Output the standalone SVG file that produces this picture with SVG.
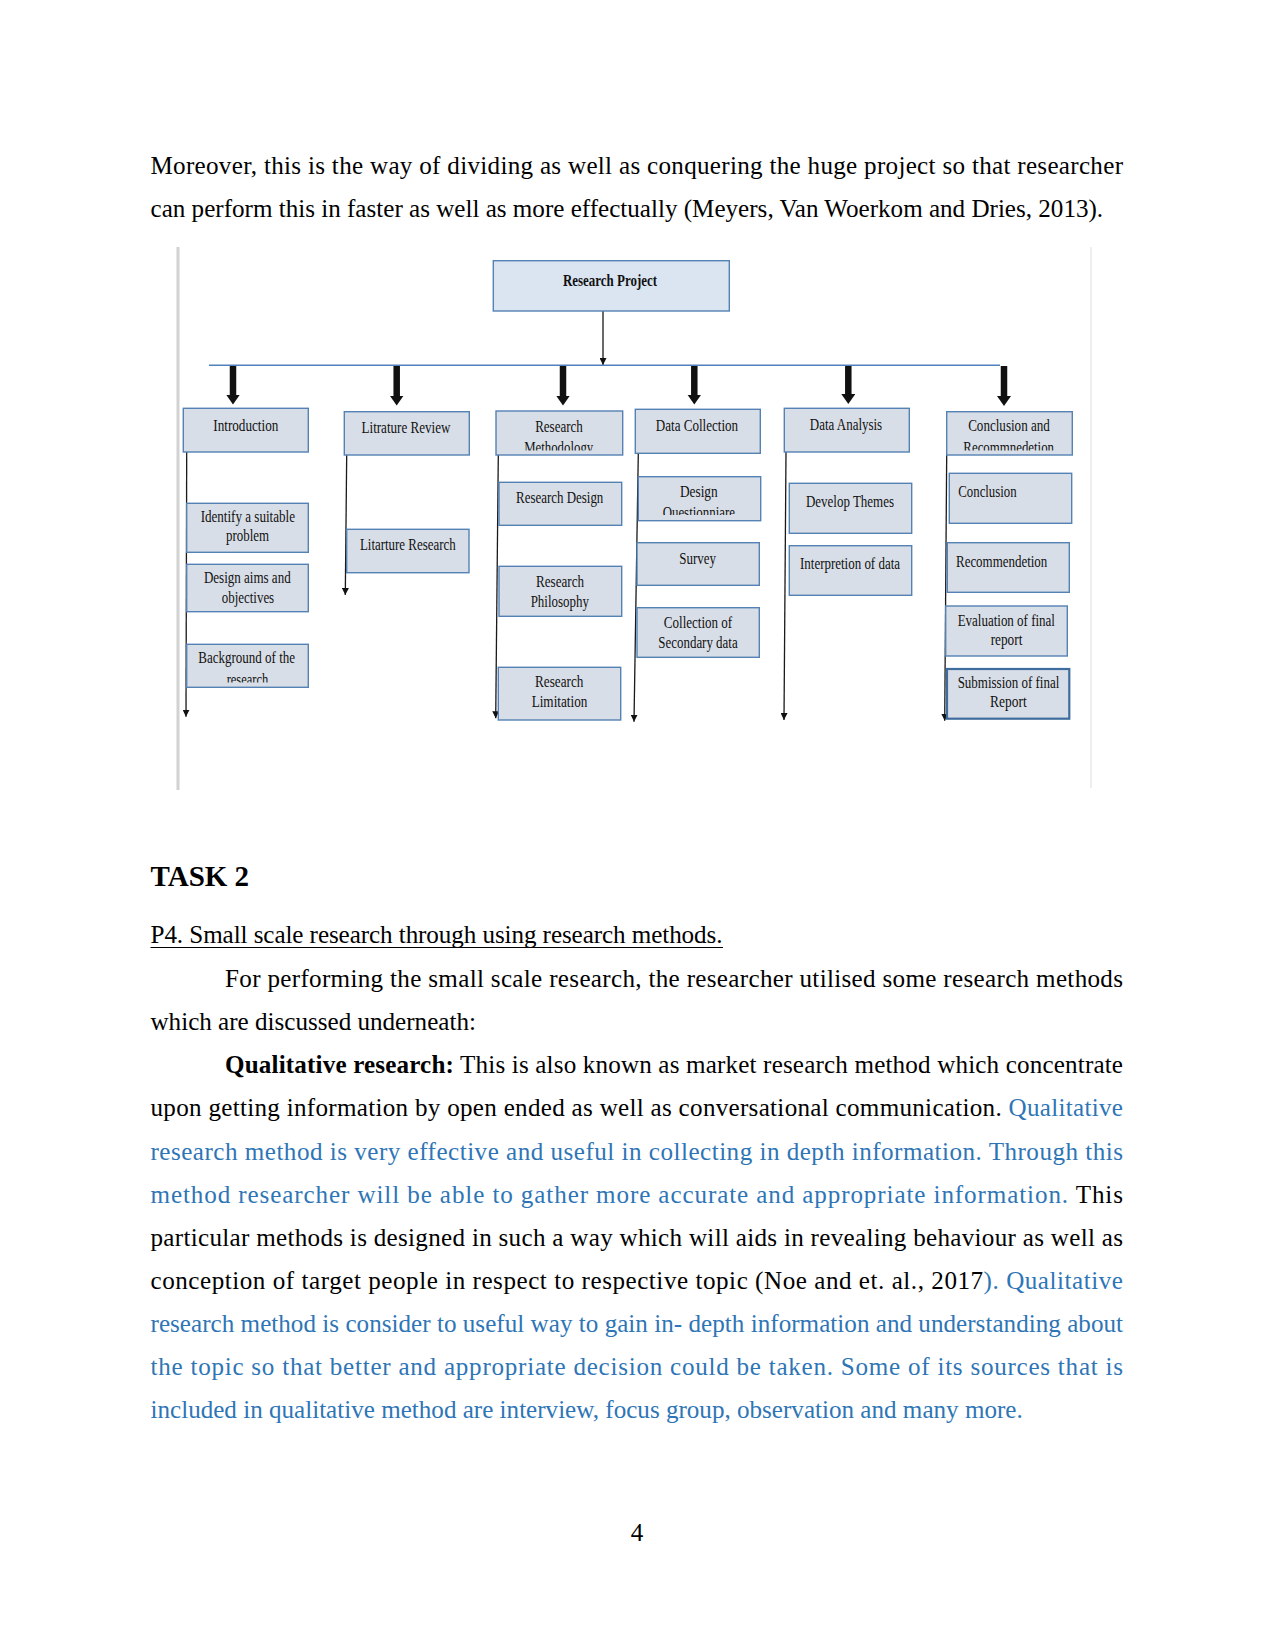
<svg xmlns="http://www.w3.org/2000/svg" width="1275" height="1651" viewBox="0 0 1275 1651">
<style>
.body{font-family:"Liberation Serif","Times New Roman",serif;font-size:25.1px;fill:#000}
.blue{fill:#2e75b6}
.lbl{font-family:"Liberation Serif","Times New Roman",serif;font-size:16px;fill:#111}
.box{fill:#d8dee7;stroke:#5582b4;stroke-width:1.4}
.conn{stroke:#1a1a1a;stroke-width:1.3;fill:none}
.thick{stroke:#111;stroke-width:6.5;fill:none}
</style>
<defs>
<marker id="thin" markerUnits="userSpaceOnUse" viewBox="0 0 8 8" markerWidth="7" markerHeight="7" refX="8" refY="4" orient="auto"><path d="M0,0 L8,4 L0,8 z" fill="#111"/></marker>
<marker id="fat" markerUnits="userSpaceOnUse" viewBox="0 0 10 14" markerWidth="10" markerHeight="14" refX="0.5" refY="7" orient="auto"><path d="M0,0 L10,7 L0,14 z" fill="#111"/></marker>
<clipPath id="cRM"><rect x="496" y="411" width="127" height="39.5"/></clipPath>
<clipPath id="cCR"><rect x="946" y="411" width="127" height="39.5"/></clipPath>
<clipPath id="cDQ"><rect x="638" y="476" width="123" height="39"/></clipPath>
<clipPath id="cBG"><rect x="186" y="644" width="123" height="38.5"/></clipPath>
</defs>

<!-- body text -->
<text class="body" x="150.5" y="173.5" textLength="972.5" lengthAdjust="spacing">Moreover, this is the way of dividing as well as conquering the huge project so that researcher</text>
<text class="body" x="150.5" y="216.5">can perform this in faster as well as more effectually (Meyers, Van Woerkom and Dries, 2013).</text>

<text class="body" x="150.5" y="885.5" style="font-size:29px;font-weight:bold">TASK 2</text>
<text class="body" x="150.5" y="943" textLength="572" lengthAdjust="spacing">P4. Small scale research through using research methods.</text>
<line x1="150.5" y1="947.5" x2="723" y2="947.5" stroke="#000" stroke-width="1.2"/>

<text class="body" x="225" y="987" textLength="898" lengthAdjust="spacing">For performing the small scale research, the researcher utilised some research methods</text>
<text class="body" x="150.5" y="1030.1">which are discussed underneath:</text>
<text class="body" x="225" y="1073.3" textLength="898" lengthAdjust="spacing"><tspan font-weight="bold">Qualitative research:</tspan> This is also known as market research method which concentrate</text>
<text class="body" x="150.5" y="1116.4" textLength="972.5" lengthAdjust="spacing">upon getting information by open ended as well as conversational communication. <tspan class="blue">Qualitative</tspan></text>
<text class="body blue" x="150.5" y="1159.5" textLength="972.5" lengthAdjust="spacing">research method is very effective and useful in collecting in depth information. Through this</text>
<text class="body" x="150.5" y="1202.7" textLength="972.5" lengthAdjust="spacing"><tspan class="blue">method researcher will be able to gather more accurate and appropriate information.</tspan> This</text>
<text class="body" x="150.5" y="1245.8" textLength="972.5" lengthAdjust="spacing">particular methods is designed in such a way which will aids in revealing behaviour as well as</text>
<text class="body" x="150.5" y="1289" textLength="972.5" lengthAdjust="spacing">conception of target people in respect to respective topic (Noe and et. al., 2017<tspan class="blue">). Qualitative</tspan></text>
<text class="body blue" x="150.5" y="1332.1" textLength="972.5" lengthAdjust="spacing">research method is consider to useful way to gain in- depth information and understanding about</text>
<text class="body blue" x="150.5" y="1375.3" textLength="972.5" lengthAdjust="spacing">the topic so that better and appropriate decision could be taken. Some of its sources that is</text>
<text class="body blue" x="150.5" y="1418.4">included in qualitative method are interview, focus group, observation and many more.</text>

<text class="body" x="637" y="1541" text-anchor="middle">4</text>

<!-- image frame -->
<line x1="178" y1="247" x2="178" y2="790" stroke="#d2d2d2" stroke-width="3"/>
<line x1="1091" y1="247" x2="1091" y2="788" stroke="#e8e8e8" stroke-width="1.5"/>

<g id="connectors">
<line class="conn" x1="603" y1="311" x2="603" y2="365" marker-end="url(#thin)"/>
<line x1="209" y1="365.3" x2="1000" y2="365.3" stroke="#4f81bd" stroke-width="1.6"/>
<line class="thick" x1="233" y1="366" x2="233" y2="395" marker-end="url(#fat)"/>
<line class="thick" x1="396.7" y1="366" x2="396.7" y2="396" marker-end="url(#fat)"/>
<line class="thick" x1="563" y1="366" x2="563" y2="396" marker-end="url(#fat)"/>
<line class="thick" x1="694.3" y1="366" x2="694.3" y2="395" marker-end="url(#fat)"/>
<line class="thick" x1="848.3" y1="366" x2="848.3" y2="394.5" marker-end="url(#fat)"/>
<line class="thick" x1="1004" y1="366" x2="1004" y2="396.5" marker-end="url(#fat)"/>
<line class="conn" x1="186.7" y1="452" x2="186" y2="716.7" marker-end="url(#thin)"/>
<line class="conn" x1="346.7" y1="455" x2="345.3" y2="595" marker-end="url(#thin)"/>
<line class="conn" x1="498.3" y1="455" x2="495.7" y2="718.3" marker-end="url(#thin)"/>
<line class="conn" x1="638.3" y1="453.3" x2="634" y2="721.7" marker-end="url(#thin)"/>
<line class="conn" x1="786" y1="452" x2="784" y2="720" marker-end="url(#thin)"/>
<line class="conn" x1="946.7" y1="455" x2="944.7" y2="720.7" marker-end="url(#thin)"/>
</g>

<g id="research-project">
<rect x="493.3" y="260.7" width="236" height="50.3" fill="#dbe5f1" stroke="#5582b4" stroke-width="1.4"/>
<text class="lbl" x="610" y="286" text-anchor="middle" font-weight="bold" textLength="94" lengthAdjust="spacingAndGlyphs">Research Project</text>
</g>

<g id="introduction">
<rect class="box" x="183.3" y="408.3" width="125" height="43.7"/>
<text class="lbl" x="245.8" y="430.7" text-anchor="middle" textLength="65" lengthAdjust="spacingAndGlyphs">Introduction</text>
</g>
<g id="litrature-review">
<rect class="box" x="344.3" y="411.7" width="125" height="43.3"/>
<text class="lbl" x="406" y="433.3" text-anchor="middle" textLength="89" lengthAdjust="spacingAndGlyphs">Litrature Review</text>
</g>
<g id="research-methodology">
<rect class="box" x="496" y="411" width="126.7" height="44"/>
<text class="lbl" x="559" y="431.7" text-anchor="middle" textLength="47.7" lengthAdjust="spacingAndGlyphs">Research</text>
<text class="lbl" x="558.7" y="452.5" text-anchor="middle" textLength="69" lengthAdjust="spacingAndGlyphs" clip-path="url(#cRM)">Methodology</text>
</g>
<g id="data-collection">
<rect class="box" x="635.3" y="409.3" width="125" height="44"/>
<text class="lbl" x="697" y="431" text-anchor="middle" textLength="82.3" lengthAdjust="spacingAndGlyphs">Data Collection</text>
</g>
<g id="data-analysis">
<rect class="box" x="784.3" y="408.3" width="125" height="43.7"/>
<text class="lbl" x="846" y="430" text-anchor="middle" textLength="72.3" lengthAdjust="spacingAndGlyphs">Data Analysis</text>
</g>
<g id="conclusion-recommendation">
<rect class="box" x="946.7" y="411.7" width="125.6" height="43.3"/>
<text class="lbl" x="1009" y="430.7" text-anchor="middle" textLength="81.7" lengthAdjust="spacingAndGlyphs">Conclusion and</text>
<text class="lbl" x="1008.7" y="452.5" text-anchor="middle" textLength="90.7" lengthAdjust="spacingAndGlyphs" clip-path="url(#cCR)">Recommnedetion</text>
</g>

<g id="identify-problem">
<rect class="box" x="186.7" y="503.3" width="121.6" height="49"/>
<text class="lbl" x="247.8" y="521.7" text-anchor="middle" textLength="94.3" lengthAdjust="spacingAndGlyphs">Identify a suitable</text>
<text class="lbl" x="247.5" y="541" text-anchor="middle" textLength="43" lengthAdjust="spacingAndGlyphs">problem</text>
</g>
<g id="design-aims">
<rect class="box" x="186.7" y="564.3" width="121.6" height="47.4"/>
<text class="lbl" x="247.3" y="583.3" text-anchor="middle" textLength="86.7" lengthAdjust="spacingAndGlyphs">Design aims and</text>
<text class="lbl" x="248" y="603.3" text-anchor="middle" textLength="52.3" lengthAdjust="spacingAndGlyphs">objectives</text>
</g>
<g id="background">
<rect class="box" x="186.7" y="644.3" width="121.6" height="43"/>
<text class="lbl" x="246.7" y="663.3" text-anchor="middle" textLength="96.7" lengthAdjust="spacingAndGlyphs">Background of the</text>
<text class="lbl" x="247.5" y="685" text-anchor="middle" textLength="41.7" lengthAdjust="spacingAndGlyphs" clip-path="url(#cBG)">research</text>
</g>

<g id="litarture-research">
<rect class="box" x="346.7" y="529.3" width="122.3" height="43.4"/>
<text class="lbl" x="407.8" y="550" text-anchor="middle" textLength="95.7" lengthAdjust="spacingAndGlyphs">Litarture Research</text>
</g>

<g id="research-design">
<rect class="box" x="499" y="482.3" width="122.7" height="43"/>
<text class="lbl" x="559.7" y="503.3" text-anchor="middle" textLength="87.3" lengthAdjust="spacingAndGlyphs">Research Design</text>
</g>
<g id="research-philosophy">
<rect class="box" x="499" y="566.3" width="122.7" height="50"/>
<text class="lbl" x="560" y="586.7" text-anchor="middle" textLength="48" lengthAdjust="spacingAndGlyphs">Research</text>
<text class="lbl" x="559.8" y="606.7" text-anchor="middle" textLength="58.3" lengthAdjust="spacingAndGlyphs">Philosophy</text>
</g>
<g id="research-limitation">
<rect class="box" x="498.3" y="667.3" width="122.4" height="52.7"/>
<text class="lbl" x="559.2" y="687.3" text-anchor="middle" textLength="48.3" lengthAdjust="spacingAndGlyphs">Research</text>
<text class="lbl" x="559.5" y="707.3" text-anchor="middle" textLength="55.7" lengthAdjust="spacingAndGlyphs">Limitation</text>
</g>

<g id="design-questionnaire">
<rect class="box" x="638.3" y="476.7" width="122.4" height="44"/>
<text class="lbl" x="698.8" y="496.7" text-anchor="middle" textLength="37.7" lengthAdjust="spacingAndGlyphs">Design</text>
<text class="lbl" x="698.8" y="517.5" text-anchor="middle" textLength="72.3" lengthAdjust="spacingAndGlyphs" clip-path="url(#cDQ)">Questionniare</text>
</g>
<g id="survey">
<rect class="box" x="637" y="542.7" width="122.3" height="42.6"/>
<text class="lbl" x="697.7" y="564" text-anchor="middle" textLength="36.7" lengthAdjust="spacingAndGlyphs">Survey</text>
</g>
<g id="secondary-data">
<rect class="box" x="637" y="607.7" width="122.3" height="49.6"/>
<text class="lbl" x="698" y="627.7" text-anchor="middle" textLength="68.3" lengthAdjust="spacingAndGlyphs">Collection of</text>
<text class="lbl" x="698" y="647.7" text-anchor="middle" textLength="79.3" lengthAdjust="spacingAndGlyphs">Secondary data</text>
</g>

<g id="develop-themes">
<rect class="box" x="789.3" y="483.3" width="122.4" height="50"/>
<text class="lbl" x="850" y="507.3" text-anchor="middle" textLength="88" lengthAdjust="spacingAndGlyphs">Develop Themes</text>
</g>
<g id="interpretion">
<rect class="box" x="789.3" y="545.7" width="122.4" height="49.6"/>
<text class="lbl" x="850" y="569" text-anchor="middle" textLength="100" lengthAdjust="spacingAndGlyphs">Interpretion of data</text>
</g>

<g id="conclusion">
<rect class="box" x="949.3" y="473.3" width="122.4" height="50"/>
<text class="lbl" x="958.3" y="497.3" textLength="58.3" lengthAdjust="spacingAndGlyphs">Conclusion</text>
</g>
<g id="recommendetion">
<rect class="box" x="947.3" y="542.7" width="122" height="49.6"/>
<text class="lbl" x="956" y="566.7" textLength="91.3" lengthAdjust="spacingAndGlyphs">Recommendetion</text>
</g>
<g id="evaluation">
<rect class="box" x="945.7" y="606" width="121.6" height="50"/>
<text class="lbl" x="1006.3" y="625.7" text-anchor="middle" textLength="97.3" lengthAdjust="spacingAndGlyphs">Evaluation of final</text>
<text class="lbl" x="1006.5" y="645" text-anchor="middle" textLength="31.7" lengthAdjust="spacingAndGlyphs">report</text>
</g>
<g id="submission">
<rect class="box" x="947" y="669" width="122.3" height="49.7" style="stroke:#3f6c9e;stroke-width:2.2"/>
<text class="lbl" x="1008.5" y="687.7" text-anchor="middle" textLength="101.7" lengthAdjust="spacingAndGlyphs">Submission of final</text>
<text class="lbl" x="1008.3" y="707.3" text-anchor="middle" textLength="36.7" lengthAdjust="spacingAndGlyphs">Report</text>
</g>
</svg>
